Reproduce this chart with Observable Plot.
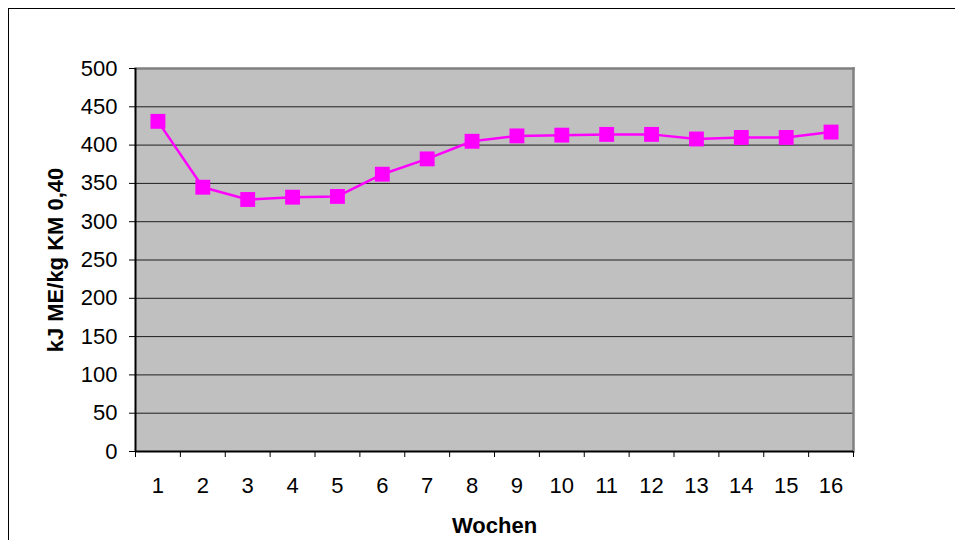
<!DOCTYPE html>
<html>
<head>
<meta charset="utf-8">
<script src="https://cdn.jsdelivr.net/npm/d3@7"></script>
<script src="https://cdn.jsdelivr.net/npm/@observablehq/plot@0.6"></script>
<style>
  html, body { margin: 0; padding: 0; background: #fff; overflow: hidden; }
  #wrap { position: relative; width: 955px; height: 540px; }
  #border { position: absolute; left: 8px; top: 8px; width: 960px; height: 540px;
            border-left: 1px solid #000; border-top: 1px solid #000; box-sizing: border-box; pointer-events: none; }
  #chart { position: absolute; left: 0; top: 0; }
</style>
</head>
<body>
<div id="wrap"><div id="chart"></div><div id="border"></div></div>
<script>
const weeks = [1, 2, 3, 4, 5, 6, 7, 8, 9, 10, 11, 12, 13, 14, 15, 16];
const energy = [431, 345, 329, 332, 333, 362, 382, 405, 412, 413, 414, 414, 408, 410, 410, 417];
const yTicks = [0, 50, 100, 150, 200, 250, 300, 350, 400, 450, 500];
const xTitle = "Wochen";
const yTitle = "kJ ME/kg KM 0,40";

const data = weeks.map((w, i) => ({week: w, value: energy[i]}));
const edges = [weeks[0] - 0.5, ...weeks.map(w => w + 0.5)];
const grid = yTicks.slice(1, -1);

const chart = Plot.plot({
  width: 955,
  height: 540,
  marginLeft: 135,
  marginRight: 102,
  marginTop: 68,
  marginBottom: 89,
  style: {fontFamily: "'Liberation Sans', Arial, sans-serif", fontSize: "22px", background: "#fff", color: "#000"},
  x: {domain: [edges[0], edges[edges.length - 1]]},
  y: {domain: [0, 500]},
  marks: [
    Plot.frame({fill: "#c0c0c0", stroke: "none"}),
    Plot.ruleY(grid, {stroke: "#000", strokeWidth: 1, strokeOpacity: 0.85}),
    Plot.frame({anchor: "top", stroke: "#808080", strokeWidth: 2.5}),
    Plot.frame({anchor: "right", stroke: "#808080", strokeWidth: 2.5}),
    Plot.ruleX([edges[0]], {stroke: "#000", strokeWidth: 2}),
    Plot.ruleY([0], {stroke: "#000", strokeWidth: 2}),
    Plot.axisY({ticks: yTicks, tickSize: 6, tickPadding: 12, tickFormat: d => String(d), label: null, fontSize: 22, stroke: "#000"}),
    Plot.axisX({ticks: weeks, tickSize: 0, tickPadding: 26, tickFormat: d => String(d), label: null, fontSize: 22}),
    Plot.axisX({ticks: edges, tickSize: 6, tickFormat: () => "", label: null}),
    Plot.line(data, {x: "week", y: "value", stroke: "#ff00ff", strokeWidth: 2.5}),
    Plot.dot(data, {x: "week", y: "value", symbol: "square", r: 8.4, fill: "#ff00ff", stroke: "none"}),
    Plot.text([xTitle], {frameAnchor: "bottom", dy: 74, text: d => d, fontWeight: "bold", fontSize: 22, lineAnchor: "middle"}),
    Plot.text([yTitle], {frameAnchor: "left", dx: -80, rotate: -90, text: d => d, fontWeight: "bold", fontSize: 22, lineAnchor: "middle", textAnchor: "middle"})
  ]
});
document.getElementById("chart").appendChild(chart);
</script>
</body>
</html>
